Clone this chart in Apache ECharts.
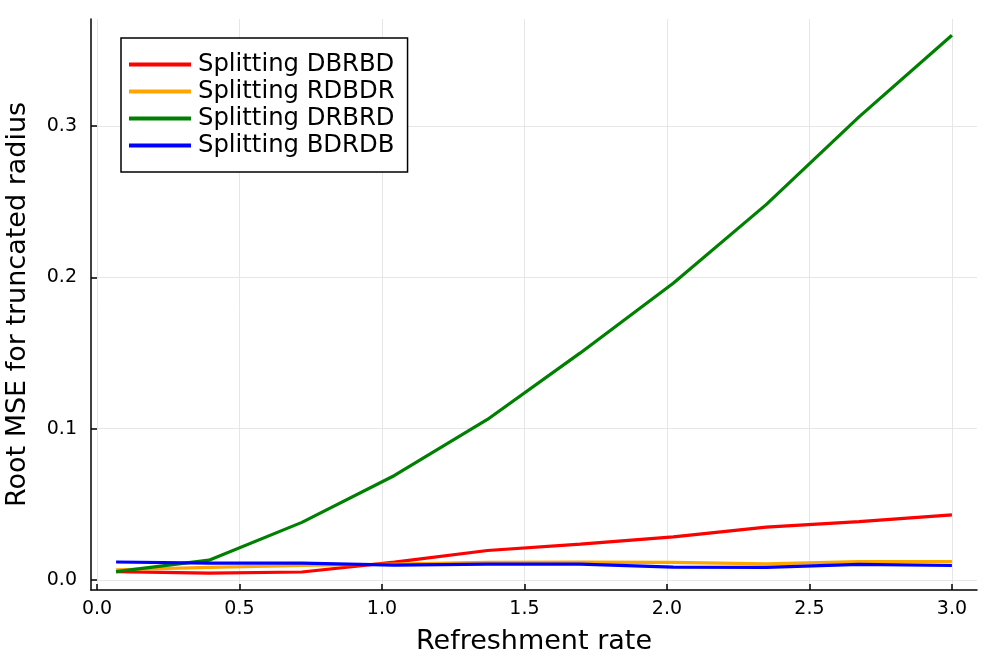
<!DOCTYPE html>
<html><head><meta charset="utf-8">
<script src="https://cdn.jsdelivr.net/npm/echarts@6/dist/echarts.min.js"></script>
<style>html,body{margin:0;padding:0;background:#fff}#c{width:997px;height:664px}</style>
</head><body><div id="c"></div>
<script>
const rates = [0.067, 0.393, 0.719, 1.044, 1.370, 1.696, 2.022, 2.348, 2.674, 3.0];
const dbrbd = [0.0055, 0.0044, 0.0052, 0.0117, 0.0194, 0.0236, 0.0284, 0.0348, 0.0385, 0.0430];
const rdbdr = [0.0067, 0.0083, 0.0095, 0.0105, 0.0115, 0.0117, 0.0115, 0.0106, 0.0121, 0.0121];
const drbrd = [0.0055, 0.0130, 0.0380, 0.0690, 0.1060, 0.1500, 0.1960, 0.2480, 0.3060, 0.3600];
const bdrdb = [0.0118, 0.0110, 0.0110, 0.0097, 0.0104, 0.0104, 0.0084, 0.0082, 0.0102, 0.0095];
const names = ['Splitting DBRBD','Splitting RDBDR','Splitting DRBRD','Splitting BDRDB'];
const colors = ['#ff0000','#ffa500','#008000','#0000ff'];
const xTicks = [0, 0.5, 1.0, 1.5, 2.0, 2.5, 3.0];
const yTicks = [0, 0.1, 0.2, 0.3];
const seriesVals = [dbrbd, rdbdr, drbrd, bdrdb];

const font = 'DejaVu Sans';
const chart = echarts.init(document.getElementById('c'), null, {renderer:'canvas'});
chart.setOption({
  animation:false,
  grid:{left:91, right:20, top:19, bottom:74, containLabel:false, outerBoundsMode:'none'},
  legend:{
    left:121, top:38, orient:'vertical',
    data: names,
    icon:'rect', itemWidth:62, itemHeight:4, itemGap:0,
    padding:[13,13,13,8],
    borderColor:'#000', borderWidth:1.5, backgroundColor:'#fff',
    textStyle:{fontFamily:font, fontSize:24.3, color:'#000', lineHeight:27, padding:[0,0,0,2]}
  },
  xAxis:{
    type:'value', min:-0.021, max:3.088,
    name:'Refreshment rate', nameLocation:'middle', nameGap:38,
    nameTextStyle:{fontFamily:font, fontSize:27, color:'#000'},
    axisLine:{show:true, onZero:false, lineStyle:{color:'#000', width:1.5}},
    axisTick:{show:true, inside:true, length:6, customValues:xTicks, lineStyle:{color:'#000', width:1.5}},
    axisLabel:{customValues:xTicks, fontFamily:font, fontSize:19, color:'#000', margin:10,
      formatter:v=>v.toFixed(1)},
    splitLine:{show:true, lineStyle:{color:'#e6e6e6', width:1}}
  },
  yAxis:{
    type:'value', min:-0.0067, max:0.3707,
    name:'Root MSE for truncated radius', nameLocation:'middle', nameGap:60,
    nameTextStyle:{fontFamily:font, fontSize:27, color:'#000'},
    axisLine:{show:true, onZero:false, lineStyle:{color:'#000', width:1.5}},
    axisTick:{show:true, inside:true, length:6, customValues:yTicks, lineStyle:{color:'#000', width:1.5}},
    axisLabel:{customValues:yTicks, fontFamily:font, fontSize:19, color:'#000', margin:14,
      formatter:v=>v.toFixed(1)},
    splitLine:{show:true, lineStyle:{color:'#e6e6e6', width:1}}
  },
  series: seriesVals.map((vals,i)=>({
    name:names[i], type:'line', showSymbol:false, symbol:'none',
    data: rates.map((x,j)=>[x, vals[j]]),
    lineStyle:{color:colors[i], width:3.2},
    itemStyle:{color:colors[i]},
    z: 2+i
  }))
});
</script></body></html>
